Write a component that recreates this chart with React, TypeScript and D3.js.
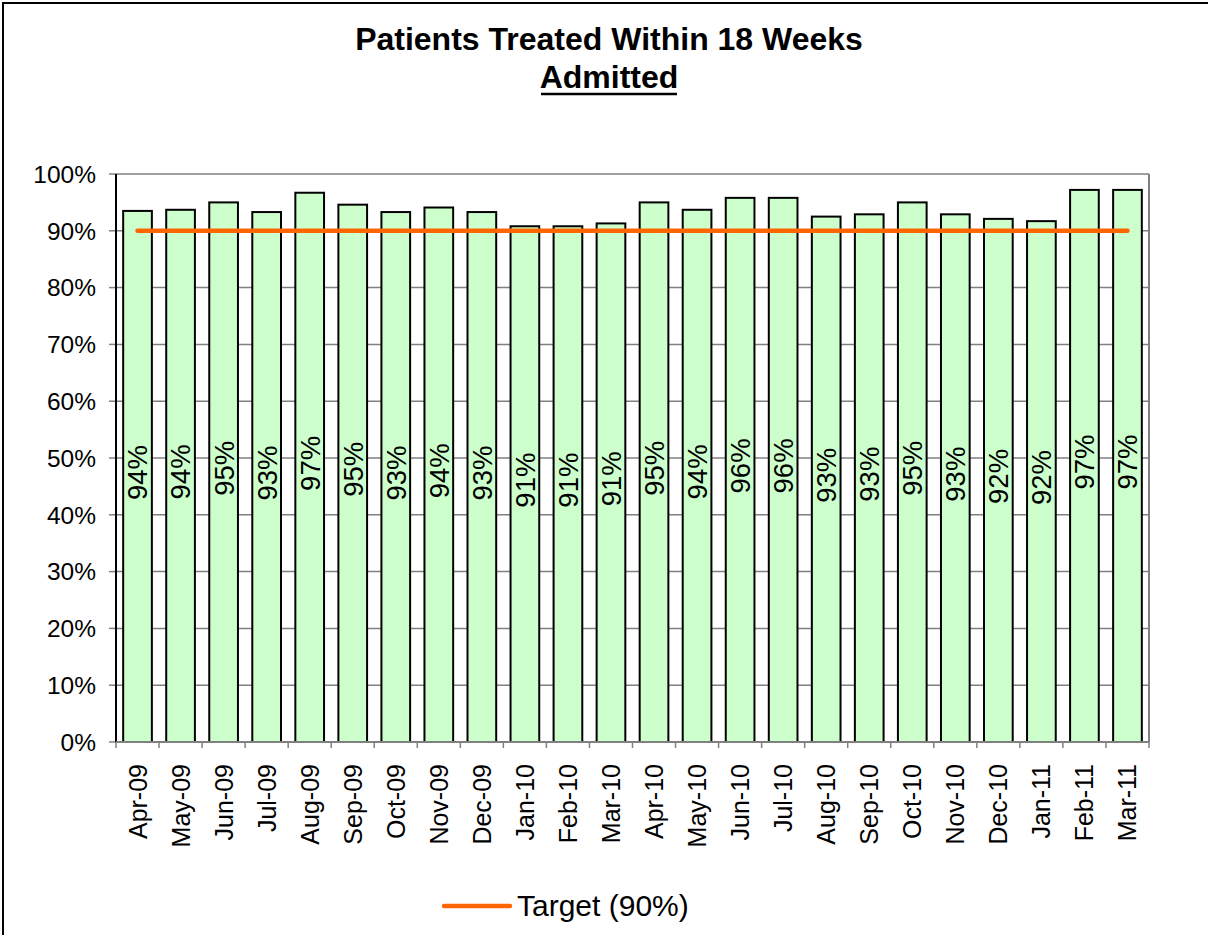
import React from "react";
import * as d3 from "d3";

const months = ["Apr-09","May-09","Jun-09","Jul-09","Aug-09","Sep-09","Oct-09","Nov-09","Dec-09","Jan-10","Feb-10","Mar-10","Apr-10","May-10","Jun-10","Jul-10","Aug-10","Sep-10","Oct-10","Nov-10","Dec-10","Jan-11","Feb-11","Mar-11"];
const admittedPct = [93.5,93.7,95.0,93.3,96.7,94.6,93.3,94.1,93.3,90.8,90.8,91.3,95.0,93.7,95.8,95.8,92.5,92.9,95.0,92.9,92.1,91.7,97.2,97.2];
const targetPct = 90;
const yTicks = [0,10,20,30,40,50,60,70,80,90,100];

const W = 1208, H = 935;
const M = { left: 116, right: 1149, top: 174, bottom: 742 };
const FONT = "Liberation Sans, Arial, sans-serif";

export default function App() {
  const x = d3.scaleBand<string>().domain(months).range([M.left, M.right]).paddingInner(1 / 3).paddingOuter(1 / 6);
  const xb = d3.scaleBand<string>().domain(months).range([M.left, M.right]);
  const y = d3.scaleLinear().domain([0, 100]).range([M.bottom, M.top]);
  const line = d3.line<number>().x((_, i) => xb(months[i])! + xb.bandwidth() / 2).y((d) => y(d));
  const target = months.map(() => targetPct);

  return (
    <svg width={W} height={H} style={{ display: "block", position: "absolute", left: 0, top: 0 }} fontFamily={FONT}>
      <rect x={0} y={0} width={W} height={H} fill="#fff" />
      <rect x={3} y={3} width={W + 20} height={H + 20} fill="none" stroke="#000" strokeWidth={2} />
      <text x={609} y={50} textAnchor="middle" fontSize={32} fontWeight="bold">Patients Treated Within 18 Weeks</text>
      <text x={609} y={88} textAnchor="middle" fontSize={32} fontWeight="bold">Admitted</text>
      <line x1={541} x2={677} y1={94} y2={94} stroke="#000" strokeWidth={2.5} />

      {yTicks.map((t) => (
        <g key={t}>
          <line x1={M.left} x2={M.right} y1={y(t)} y2={y(t)} stroke="#808080" strokeWidth={1.5} />
          <line x1={M.left - 7} x2={M.left} y1={y(t)} y2={y(t)} stroke="#808080" strokeWidth={1.5} />
          <text x={96} y={y(t)} dy="0.36em" textAnchor="end" fontSize={24.5}>{t}%</text>
        </g>
      ))}
      <line x1={M.right} x2={M.right} y1={M.top} y2={M.bottom} stroke="#808080" strokeWidth={2} />

      {months.map((m, i) => (
        <g key={m}>
          <rect x={x(m)} y={y(admittedPct[i])} width={x.bandwidth()} height={M.bottom - y(admittedPct[i])} fill="#CCFFCC" stroke="#000" strokeWidth={2} />
        </g>
      ))}
      {months.map((m, i) => {
        const cx = x(m)! + x.bandwidth() / 2;
        const cy = (y(admittedPct[i]) + M.bottom) / 2 - 4;
        return (
          <text key={m} transform={`translate(${cx},${cy}) rotate(-90)`} textAnchor="middle" dy="0.36em" fontSize={27.5}>
            {Math.round(admittedPct[i])}%
          </text>
        );
      })}

      <path d={line(target) || ""} fill="none" stroke="#FF6600" strokeWidth={4.5} strokeLinecap="round" />

      <line x1={M.left} x2={M.left} y1={M.top} y2={M.bottom} stroke="#000" strokeWidth={2} />
      <line x1={M.left} x2={M.right} y1={M.bottom} y2={M.bottom} stroke="#808080" strokeWidth={2} />
      {months.map((m) => (
        <line key={m} x1={xb(m)} x2={xb(m)} y1={M.bottom} y2={M.bottom + 6} stroke="#808080" strokeWidth={1.5} />
      ))}
      <line x1={M.right} x2={M.right} y1={M.bottom} y2={M.bottom + 6} stroke="#808080" strokeWidth={1.5} />
      {months.map((m) => {
        const cx = xb(m)! + xb.bandwidth() / 2;
        return (
          <text key={m} transform={`translate(${cx},${M.bottom + 22}) rotate(-90)`} textAnchor="end" dy="0.36em" fontSize={25}>
            {m}
          </text>
        );
      })}

      <line x1={444} x2={510} y1={906} y2={906} stroke="#FF6600" strokeWidth={4.5} strokeLinecap="round" />
      <text x={517} y={916} fontSize={30}>Target (90%)</text>
    </svg>
  );
}
